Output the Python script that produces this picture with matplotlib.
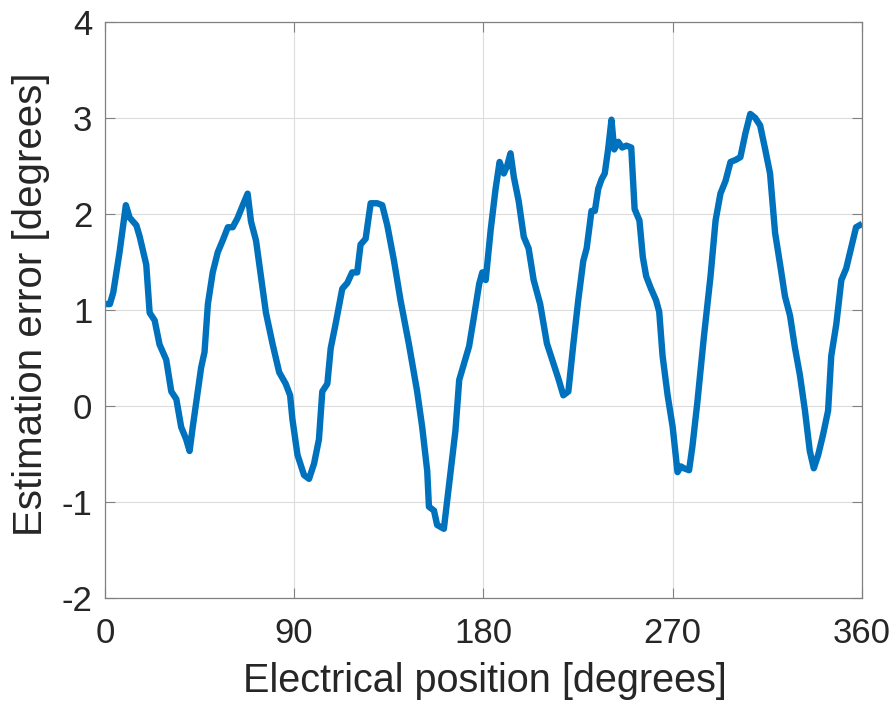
import numpy as np
import matplotlib.pyplot as plt

plt.rcParams['font.family'] = ['Liberation Sans', 'DejaVu Sans']
plt.rcParams['axes.unicode_minus'] = False

# electrical position [deg] and estimation error [deg]
position = [0.8, 2.4, 4, 7, 10, 11.8, 15, 16.6, 19.7, 21.3, 23.7, 26, 29.2, 31.6, 34,
            36.3, 38.7, 40.3, 41.8, 44.2, 45.8, 47.4, 49, 51.3, 53.7, 56, 58.5, 60.8,
            63.2, 65.6, 67.9, 69.5, 71.9, 74.2, 76.6, 79.8, 82.9, 86, 88.1, 89.2, 91.6,
            94.7, 97.1, 99.5, 101.8, 103.4, 105.8, 107.4, 109.7, 112.9, 115.3, 117.6,
            120, 121.6, 124, 126.4, 129.5, 131.9, 134.3, 137.5, 140.6, 144.6, 148.5,
            150.9, 153.3, 154.1, 156.5, 158, 161.2, 163.5, 166.7, 168.5, 170.9, 173.2,
            175.6, 178, 179.5, 181.1, 183.5, 185.8, 187.7, 189.7, 191.3, 192.9, 194.5,
            196.8, 199.2, 201.5, 203.9, 207, 210.2, 213.3, 215.7, 218, 220.4, 222.8,
            225.1, 227.5, 229.1, 231.4, 233, 234.6, 236.2, 237.7, 239.3, 240.9, 242.2,
            244.1, 246, 248, 250.3, 251.9, 254.2, 255.8, 257.4, 259.7, 262.1, 263.6,
            265.2, 267.6, 270, 272.3, 273.9, 275.4, 277.8, 279.4, 281.7, 284.9, 288,
            290.4, 292.7, 295.1, 297.5, 299.8, 302.2, 304.5, 306.9, 309.2, 311.6, 314,
            316.3, 318.7, 321.1, 323.4, 325.8, 328.1, 330.5, 332.9, 335.2, 337.1, 339.2,
            341.5, 343.9, 345.4, 347.8, 350.2, 352.5, 354.8, 357.2, 358.8]
error = [1.06, 1.06, 1.18, 1.6, 2.09, 1.96, 1.88, 1.76, 1.47, 0.97, 0.89, 0.64, 0.48,
         0.15, 0.07, -0.22, -0.35, -0.47, -0.22, 0.15, 0.40, 0.56, 1.06, 1.39, 1.6,
         1.72, 1.86, 1.86, 1.96, 2.09, 2.21, 1.92, 1.72, 1.35, 0.97, 0.64, 0.35, 0.23,
         0.11, -0.14, -0.51, -0.72, -0.76, -0.60, -0.35, 0.15, 0.23, 0.60, 0.85, 1.22,
         1.28, 1.39, 1.39, 1.68, 1.74, 2.11, 2.11, 2.09, 1.88, 1.51, 1.10, 0.64, 0.15,
         -0.22, -0.68, -1.05, -1.09, -1.24, -1.28, -0.85, -0.26, 0.27, 0.45, 0.62,
         0.94, 1.27, 1.39, 1.31, 1.84, 2.26, 2.54, 2.42, 2.50, 2.63, 2.38, 2.13, 1.76,
         1.64, 1.31, 1.06, 0.65, 0.44, 0.28, 0.11, 0.15, 0.65, 1.10, 1.51, 1.64, 2.03,
         2.03, 2.26, 2.36, 2.42, 2.67, 2.98, 2.67, 2.75, 2.69, 2.71, 2.69, 2.05, 1.93,
         1.55, 1.35, 1.22, 1.10, 0.98, 0.52, 0.11, -0.22, -0.69, -0.63, -0.65, -0.67,
         -0.42, 0.03, 0.73, 1.35, 1.93, 2.21, 2.34, 2.54, 2.56, 2.59, 2.83, 3.04, 3.0,
         2.92, 2.67, 2.42, 1.80, 1.47, 1.14, 0.94, 0.61, 0.32, -0.05, -0.47, -0.65,
         -0.51, -0.30, -0.05, 0.52, 0.85, 1.31, 1.43, 1.64, 1.86, 1.88]

xticks = [0, 90, 180, 270, 360]
yticks = [-2, -1, 0, 1, 2, 3, 4]

text_color = '#262626'
axis_color = '#808080'

fig = plt.figure(figsize=(8.96, 7.01), dpi=100)
ax = fig.add_axes([0.117, 0.147, 0.845, 0.822])

ax.plot(position, error, color='#0072BD', linewidth=4.6, solid_joinstyle='round')

ax.set_xlim(0, 360)
ax.set_ylim(-2, 4)
ax.set_xticks(xticks)
ax.set_yticks(yticks)

ax.grid(True, color='#dcdcdc', linewidth=0.8)
ax.set_axisbelow(True)

ax.tick_params(direction='in', length=7, width=0.8, colors=axis_color,
               labelcolor=text_color, labelsize=25, top=True, right=True)
ax.tick_params(axis='x', pad=14)
ax.tick_params(axis='y', pad=9)

for side in ax.spines.values():
    side.set_color(axis_color)
    side.set_linewidth(0.9)

ax.set_xlabel('Electrical position [degrees]', fontsize=28.5, color=text_color)
ax.set_ylabel('Estimation error [degrees]', fontsize=29, color=text_color)
ax.xaxis.set_label_coords(0.502, -0.112)
ax.yaxis.set_label_coords(-0.073, 0.51)

fig.savefig('out.png', dpi=100)
